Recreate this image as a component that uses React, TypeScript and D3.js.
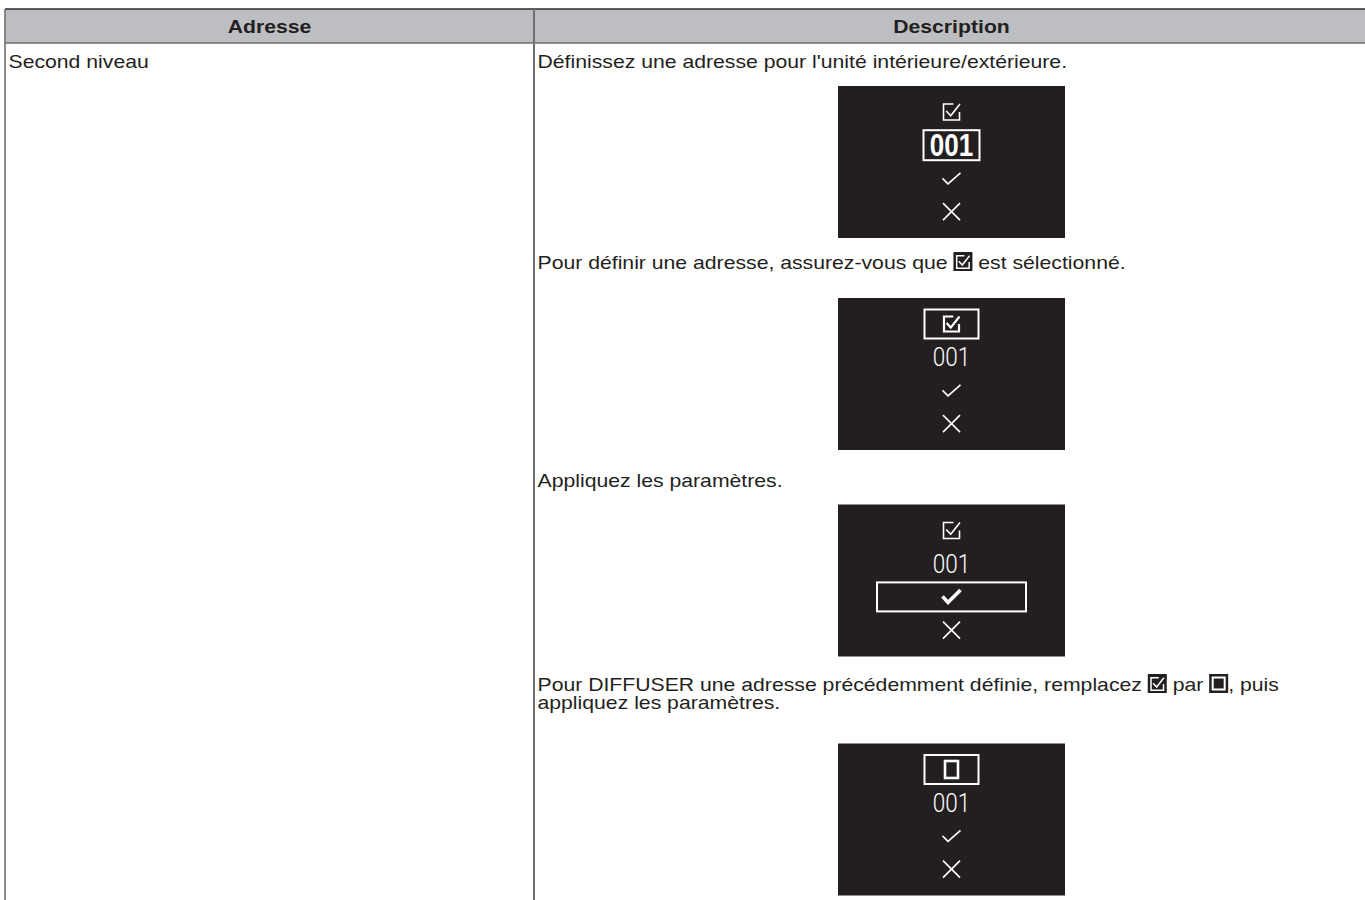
import { useMemo } from 'react'
import * as d3 from 'd3'

const HEADERS = ['Adresse', 'Description']
const ROW_LABEL = 'Second niveau'

// one entry per step, one array per line; '[x]' = checked-box icon, '[ ]' = empty-box icon
const STEP_LINES: string[][][] = [
  [["Définissez une adresse pour l'unité intérieure/extérieure."]],
  [['Pour définir une adresse, assurez-vous que ', '[x]', ' est sélectionné.']],
  [['Appliquez les paramètres.']],
  [
    ['Pour DIFFUSER une adresse précédemment définie, remplacez ', '[x]', ' par ', '[ ]', ', puis'],
    ['appliquez les paramètres.'],
  ],
]
const SCREEN_ITEMS = ['checkbox', 'address', 'confirm', 'cancel']
const SCREEN_FOCUS = ['address', 'checkbox', 'confirm', 'checkbox']
const SCREEN_CHECKED = [true, true, true, false]
const SCREEN_ADDRESS = ['001', '001', '001', '001']

const W = 1365
const H = 900
const FONT = '"Liberation Sans", Arial, Helvetica, sans-serif'
const FS = 18.6
const SX = 1.14
const INK = '#231f20'
const RULE = '#6f6f6f'
const HEAD_FILL = '#bcbec1'
const COL_X = [5, 534, 1369]
const TOP = 9
const HEAD_BOTTOM = 43
const PAD = 3.5
const SCREEN_W = 227
const SCREEN_H = 152
const LINE_H = 18
// vertical spacing per step: previous bottom -> first baseline, last baseline -> screen top
const GAP_TEXT = [25, 30.5, 36.5, 34]
const GAP_SCREEN = [18, 29.5, 18, 35]
const ICON = 19

const ctx = document.createElement('canvas').getContext('2d')!
function measure(s: string) {
  ctx.font = `${FS}px "Liberation Sans"`
  return ctx.measureText(s).width * SX
}

const line = d3.line<[number, number]>()

// checkbox glyph as drawn on the remote display, unit square
const BOX_PART: [number, number][] = [[0.62, 0], [0, 0], [0, 1], [1, 1], [1, 0.5]]
const TICK_PART: [number, number][] = [[0.17, 0.44], [0.45, 0.74], [1.03, 0.0]]

function CheckBoxGlyph({ cx, cy, size, width }: { cx: number; cy: number; size: number; width: number }) {
  const x = d3.scaleLinear().domain([0, 1]).range([cx - size / 2, cx + size / 2])
  const y = d3.scaleLinear().domain([0, 1]).range([cy - size / 2, cy + size / 2])
  const map = (pts: [number, number][]) => line(pts.map(([a, b]) => [x(a), y(b)]))!
  return (
    <g fill="none" stroke="#fff" strokeWidth={width}>
      <path d={map(BOX_PART)} />
      <path d={map(TICK_PART)} />
    </g>
  )
}

function Tick({ cx, cy, bold }: { cx: number; cy: number; bold?: boolean }) {
  const pts: [number, number][] = bold
    ? [[cx - 9, cy - 0.5], [cx - 3.5, cy + 5.5], [cx + 9, cy - 7]]
    : [[cx - 9, cy], [cx - 3.5, cy + 5.5], [cx + 9, cy - 5.5]]
  return <path d={line(pts)!} fill="none" stroke="#fff" strokeWidth={bold ? 3.6 : 1.6} />
}

function Cross({ cx, cy }: { cx: number; cy: number }) {
  const r = 8.5
  return (
    <g stroke="#fff" strokeWidth={1.6}>
      <path d={line([[cx - r, cy - r], [cx + r, cy + r]])!} />
      <path d={line([[cx - r, cy + r], [cx + r, cy - r]])!} />
    </g>
  )
}

function Screen({ top, index }: { top: number; index: number }) {
  const cx = (COL_X[1] + COL_X[2]) / 2
  const left = cx - SCREEN_W / 2
  const itemY = d3.scaleLinear().domain([0, SCREEN_ITEMS.length - 1]).range([top + 26, top + 125.6])
  const focus = SCREEN_FOCUS[index]
  const checked = SCREEN_CHECKED[index]
  return (
    <g>
      <rect x={left} y={top} width={SCREEN_W} height={SCREEN_H} fill={INK} />
      {SCREEN_ITEMS.map((item, i) => {
        const cy = itemY(i)
        const on = item === focus
        if (item === 'checkbox') {
          return (
            <g key={item}>
              {on && <rect x={cx - 27} y={cy - 14.5} width={54} height={29} fill="none" stroke="#fff" strokeWidth={2} />}
              {checked ? (
                <CheckBoxGlyph cx={cx} cy={cy} size={on ? 15 : 16} width={on ? 2.2 : 1.6} />
              ) : (
                <rect x={cx - 6.5} y={cy - 8.5} width={13} height={17} fill="none" stroke="#fff" strokeWidth={2.6} />
              )}
            </g>
          )
        }
        if (item === 'address') {
          return (
            <g key={item}>
              {on && <rect x={cx - 28} y={cy - 15} width={56} height={30} fill="none" stroke="#fff" strokeWidth={2} />}
              <text
                transform={`translate(${cx},${cy + (on ? 11 : 9.2)}) scale(${on ? 0.84 : 0.88},1)`}
                textAnchor="middle"
                fontFamily={on ? FONT : 'Roboto, "Liberation Sans", sans-serif'}
                fontWeight={on ? 700 : 300}
                fontSize={on ? 31 : 25.6}
                fill="#fff"
              >
                {SCREEN_ADDRESS[index]}
              </text>
            </g>
          )
        }
        if (item === 'confirm') {
          return (
            <g key={item}>
              {on && <rect x={cx - 74.5} y={cy - 14.5} width={149} height={29} fill="none" stroke="#fff" strokeWidth={2} />}
              <Tick cx={cx} cy={cy} bold={on} />
            </g>
          )
        }
        return <Cross key={item} cx={cx} cy={cy} />
      })}
    </g>
  )
}

function InlineIcon({ x, base, kind }: { x: number; base: number; kind: string }) {
  const y = base - 16.5
  return (
    <g>
      <rect x={x} y={y} width={ICON} height={ICON} fill={INK} />
      {kind === '[x]' ? (
        <CheckBoxGlyph cx={x + ICON / 2} cy={y + ICON / 2 + 0.5} size={12.5} width={1.5} />
      ) : (
        <rect x={x + 3.5} y={y + 3.5} width={ICON - 7} height={ICON - 7} fill="none" stroke="#fff" strokeWidth={2} />
      )}
    </g>
  )
}

function TextLine({ x, base, parts }: { x: number; base: number; parts: string[] }) {
  let cursor = x
  return (
    <g>
      {parts.map((p, i) => {
        const at = cursor
        if (p === '[x]' || p === '[ ]') {
          cursor += ICON
          return <InlineIcon key={i} x={at} base={base} kind={p} />
        }
        cursor += measure(p)
        return (
          <text
            key={i}
            transform={`translate(${at},${base}) scale(${SX},1)`}
            fontFamily={FONT}
            fontSize={FS}
            fill={INK}
            style={{ whiteSpace: 'pre' }}
          >
            {p}
          </text>
        )
      })}
    </g>
  )
}

export default function App() {
  const blocks = useMemo(() => {
    const out: { bases: number[]; screenTop: number }[] = []
    let bottom = HEAD_BOTTOM
    STEP_LINES.forEach((lines, s) => {
      const first = bottom + GAP_TEXT[s]
      const bases = lines.map((_, i) => first + i * LINE_H)
      const screenTop = bases[bases.length - 1] + GAP_SCREEN[s]
      out.push({ bases, screenTop })
      bottom = screenTop + SCREEN_H
    })
    return out
  }, [])

  return (
    <div style={{ position: 'absolute', left: 0, top: 0, background: '#fff' }}>
      <svg width={W} height={H} viewBox={`0 0 ${W} ${H}`} style={{ display: 'block' }}>
        <rect width={W} height={H} fill="#fff" />
        <rect x={COL_X[0]} y={TOP} width={COL_X[2] - COL_X[0]} height={HEAD_BOTTOM - TOP} fill={HEAD_FILL} />
        {HEADERS.map((h, i) => (
          <text
            key={h}
            transform={`translate(${(COL_X[i] + COL_X[i + 1]) / 2},${TOP + 23.6}) scale(${SX},1)`}
            textAnchor="middle"
            fontFamily={FONT}
            fontWeight={700}
            fontSize={FS}
            fill={INK}
          >
            {h}
          </text>
        ))}
        <line x1={COL_X[0]} x2={COL_X[2]} y1={TOP} y2={TOP} stroke="#2b2b2b" strokeWidth={1.6} />
        <line x1={COL_X[0]} x2={COL_X[2]} y1={HEAD_BOTTOM} y2={HEAD_BOTTOM} stroke={RULE} strokeWidth={1.6} />
        <line x1={COL_X[0]} x2={COL_X[0]} y1={TOP} y2={H} stroke={RULE} strokeWidth={1.6} />
        <line x1={COL_X[1]} x2={COL_X[1]} y1={TOP} y2={H} stroke={RULE} strokeWidth={2} />

        <TextLine x={COL_X[0] + PAD} base={HEAD_BOTTOM + GAP_TEXT[0]} parts={[ROW_LABEL]} />

        {blocks.map((b, i) => (
          <g key={i}>
            {STEP_LINES[i].map((parts, j) => (
              <TextLine key={j} x={COL_X[1] + PAD} base={b.bases[j]} parts={parts} />
            ))}
            <Screen top={b.screenTop} index={i} />
          </g>
        ))}
      </svg>
    </div>
  )
}
